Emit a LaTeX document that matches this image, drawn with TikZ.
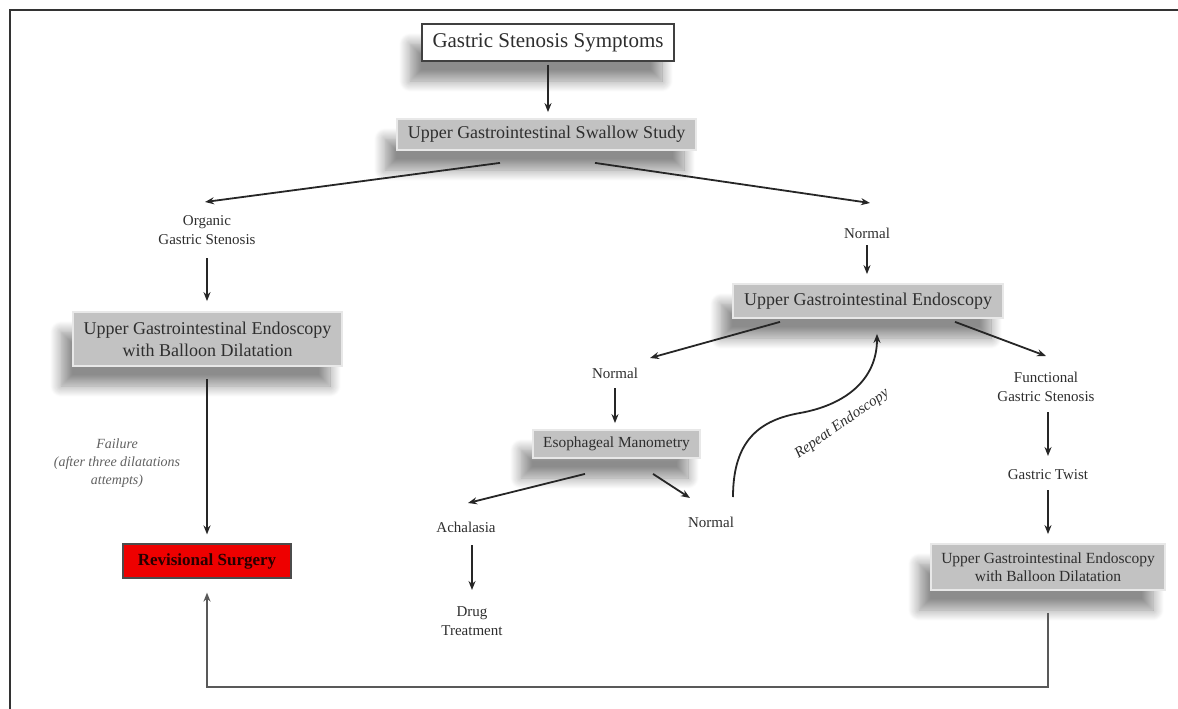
\documentclass[tikz,border=0pt]{standalone}
\usepackage{fontspec}
\setmainfont{Liberation Serif}
\usetikzlibrary{arrows.meta,calc,shadows.blur}
\definecolor{boxgray}{HTML}{C2C2C2}
\definecolor{boxedge}{HTML}{E8E8E8}
\definecolor{txt}{HTML}{2E2E2E}
\definecolor{lbl}{HTML}{2E2E2E}
\definecolor{redbox}{HTML}{EE0000}
\begin{document}
\begin{tikzpicture}[x=1pt,y=-1pt,
  shad/.style={blur shadow={shadow xshift=-12pt,shadow yshift=-20pt,shadow blur radius=11pt,shadow blur steps=12,shadow opacity=45}},
  whitebox/.style={fill=white,draw=black!75,line width=1.2pt,text=txt,align=center,inner sep=0pt,shad},
  graybox/.style={fill=boxgray,draw=boxedge,line width=1.8pt,text=txt,align=center,inner sep=0pt,shad},
  lab/.style={text=lbl,align=center,inner sep=1pt,font=\fontsize{15}{19.5}\selectfont},
  arr/.style={-{Stealth[length=9pt,width=7pt]},line width=1.8pt,draw=black!85},
  conn/.style={-{Stealth[length=9pt,width=7pt]},line width=2pt,draw=black!65}]
\useasboundingbox (0,0) rectangle (1178,709);
\draw[line width=2.5pt,black!80] (10,709) -- (10,10) -- (1178,10);

\node[whitebox,minimum width=252pt,minimum height=37pt,font=\fontsize{21}{24}\selectfont] (top) at (548,42.5) {Gastric Stenosis Symptoms};
\node[graybox,minimum width=299pt,minimum height=31pt,font=\fontsize{18}{22}\selectfont] (swallow) at (546.5,134.5) {Upper Gastrointestinal Swallow Study};

\node[lab] (organic) at (207,230) {Organic\\Gastric Stenosis};
\node[graybox,minimum width=269pt,minimum height=54pt,font=\fontsize{18}{22}\selectfont] (lbox) at (207.5,339) {Upper Gastrointestinal Endoscopy\\with Balloon Dilatation};
\node[text=black!62,align=center,font=\fontsize{14}{18}\selectfont\itshape] (failure) at (117,463) {Failure\\(after three dilatations\\attempts)};
\node[fill=redbox,draw=black!70,line width=1.2pt,minimum width=168pt,minimum height=34pt,inner sep=0pt,text=black!85!red,font=\fontsize{17}{20}\selectfont\bfseries] (revis) at (207,561) {Revisional Surgery};

\node[lab] (normal1) at (867,233) {Normal};
\node[graybox,minimum width=270pt,minimum height=34pt,font=\fontsize{18}{22}\selectfont] (endo) at (868,301) {Upper Gastrointestinal Endoscopy};
\node[lab] (normal2) at (615,373) {Normal};
\node[graybox,minimum width=167pt,minimum height=28pt,font=\fontsize{15.4}{19}\selectfont] (mano) at (616.5,444) {Esophageal Manometry};
\node[lab] (achal) at (466,527) {Achalasia};
\node[lab] (normal3) at (711,522) {Normal};
\node[lab] (drug) at (472,621) {Drug\\Treatment};
\node[lab] (func) at (1046,387) {Functional\\Gastric Stenosis};
\node[lab] (twist) at (1048,475) {Gastric Twist};
\node[graybox,minimum width=234pt,minimum height=46pt,font=\fontsize{15.5}{18}\selectfont] (rbox) at (1048,567) {Upper Gastrointestinal Endoscopy\\with Balloon Dilatation};
\node[text=lbl,rotate=35,inner sep=0pt,font=\fontsize{15}{18}\selectfont\itshape] (replab) at (842,424) {Repeat Endoscopy};

\coordinate (floor) at (0,687);
\coordinate (rb) at ($(rbox.south)+(0,22)$);
\coordinate (rv) at ($(revis.south)+(0,14)$);

\draw[arr] ($(top.south)+(0,3)$) -- ($(swallow.north)+(1.5,-6)$);
\draw[arr] ($(swallow.south)+(-46.5,12)$) -- ($(organic)+(-2,-28)$);
\draw[arr] ($(swallow.south)+(48.5,12)$) -- ($(normal1)+(3,-30)$);
\draw[arr] ($(organic)+(0,28)$) -- ($(lbox.north)+(-0.5,-10)$);
\draw[arr] ($(lbox.south)+(-0.5,12)$) -- ($(revis.north)+(0,-9)$);
\draw[arr] ($(normal1)+(0,12)$) -- ($(endo.north)+(-1,-9)$);
\draw[arr] ($(endo.south)+(-88,3)$) -- ($(normal2)+(35,-15)$);
\draw[arr] ($(endo.south)+(87,3)$) -- ($(func)+(0,-31)$);
\draw[arr] ($(normal2)+(0,15)$) -- ($(mano.north)+(-1.5,-6)$);
\draw[arr] ($(mano.south)+(-31.5,15)$) -- ($(achal)+(2,-24)$);
\draw[arr] ($(mano.south)+(36.5,15)$) -- ($(normal3)+(-21,-24)$);
\draw[arr] ($(achal)+(6,18)$) -- ($(drug)+(0,-31)$);
\draw[arr] ($(normal3)+(22,-25)$) .. controls (733,440) and (760,420) .. (800,413) .. controls (845,405) and (877,380) .. ($(endo.south)+(9,15)$);
\draw[arr] ($(func)+(2,25)$) -- ($(twist)+(0,-19)$);
\draw[arr] ($(twist)+(0,15)$) -- ($(rbox.north)+(0,-9)$);
\draw[conn] (rb) -- (rb |- floor) -| (rv);
\end{tikzpicture}
\end{document}
